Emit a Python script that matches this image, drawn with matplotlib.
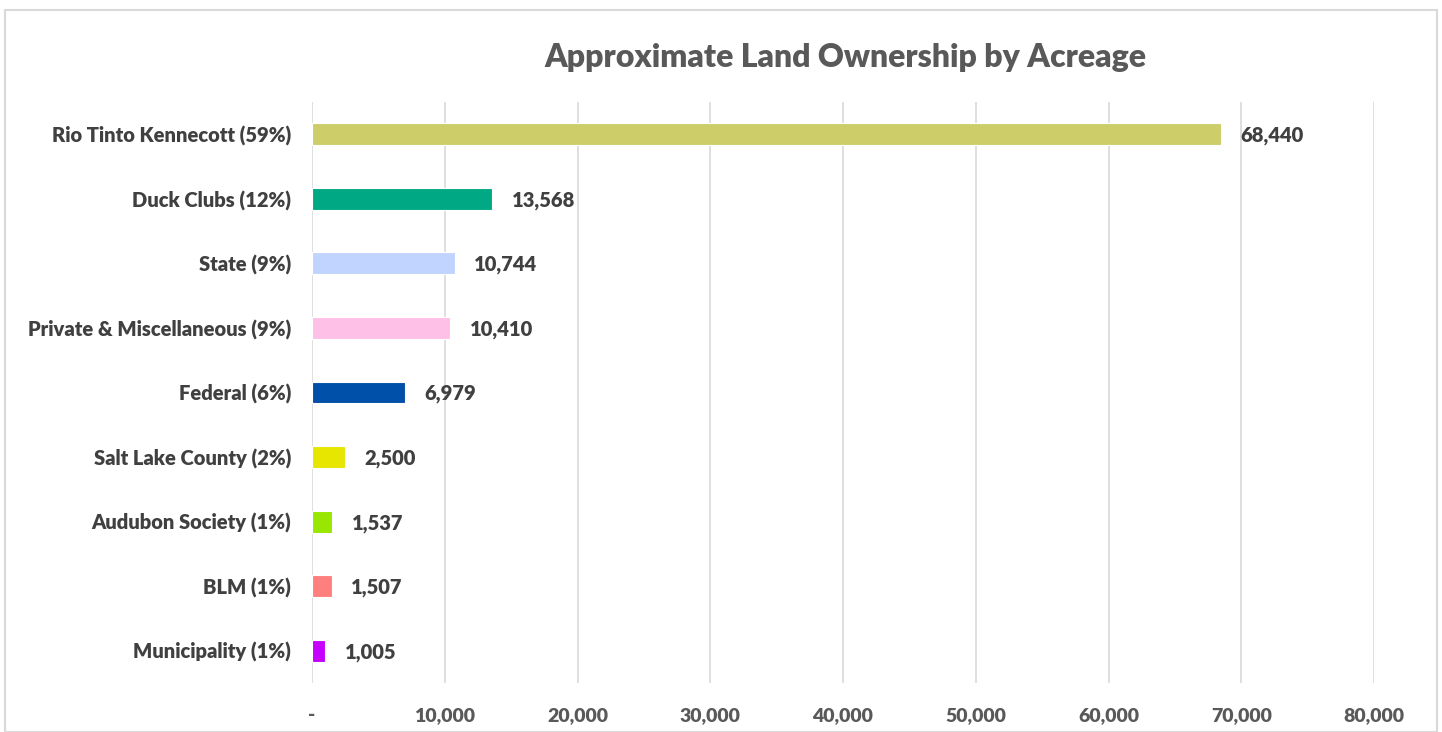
import matplotlib.pyplot as plt
from matplotlib.patches import Rectangle
from matplotlib.ticker import FuncFormatter

plt.rcParams['font.family'] = ['Lato', 'DejaVu Sans']

# data, top to bottom as shown
owners = ["Rio Tinto Kennecott (59%)", "Duck Clubs (12%)", "State (9%)",
          "Private & Miscellaneous (9%)", "Federal (6%)", "Salt Lake County (2%)",
          "Audubon Society (1%)", "BLM (1%)", "Municipality (1%)"]
acres = [68440, 13568, 10744, 10410, 6979, 2500, 1537, 1507, 1005]
colors = ["#CDCE6A", "#00A884", "#C1D4FF", "#FFC0E8", "#0050AA",
          "#E6E600", "#99E600", "#FF7F7F", "#C500FF"]
xticks = [0, 10000, 20000, 30000, 40000, 50000, 60000, 70000, 80000]

fig = plt.figure(figsize=(14.42, 7.32), dpi=100)
ax = fig.add_axes([312/1442, 1 - 683/732, 1062/1442, 581/732])

ypos = list(range(len(owners)))
ax.barh(ypos, acres, height=0.34, color=colors, edgecolor="white", linewidth=0.8, zorder=3)

for y, v in zip(ypos, acres):
    ax.annotate(f"{v:,}", (v, y), xytext=(14, -1), textcoords="offset points",
                va="center", ha="left", fontsize=14.5, fontweight="heavy", color="#404040")

ax.set_xlim(0, 80000)
ax.set_ylim(len(owners) - 0.5, -0.5)
ax.set_yticks(ypos)
ax.set_yticklabels(owners, fontsize=14.5, fontweight="heavy", color="#404040")
ax.set_xticks(xticks)
ax.xaxis.set_major_formatter(FuncFormatter(lambda v, p: "-" if v == 0 else f"{int(v):,}"))
for lbl in ax.get_xticklabels():
    lbl.set_fontsize(14)
    lbl.set_fontweight("heavy")
    lbl.set_color("#595959")
ax.tick_params(axis="both", length=0)
ax.tick_params(axis="x", pad=17)
ax.tick_params(axis="y", pad=15)
ax.grid(axis="x", color="#D9D9D9", linewidth=1.2, zorder=0)
for s in ax.spines.values():
    s.set_visible(False)

fig.text(845/1442, 1 - 58/732, "Approximate Land Ownership by Acreage",
         ha="center", va="center", fontsize=23, fontweight="heavy", color="#595959")

fig.patches.append(Rectangle((5/1442, 0), 1432/1442, 1 - 10/732, transform=fig.transFigure,
                             fill=False, edgecolor="#D9D9D9", linewidth=1.5))

fig.savefig("out.png", dpi=100)
